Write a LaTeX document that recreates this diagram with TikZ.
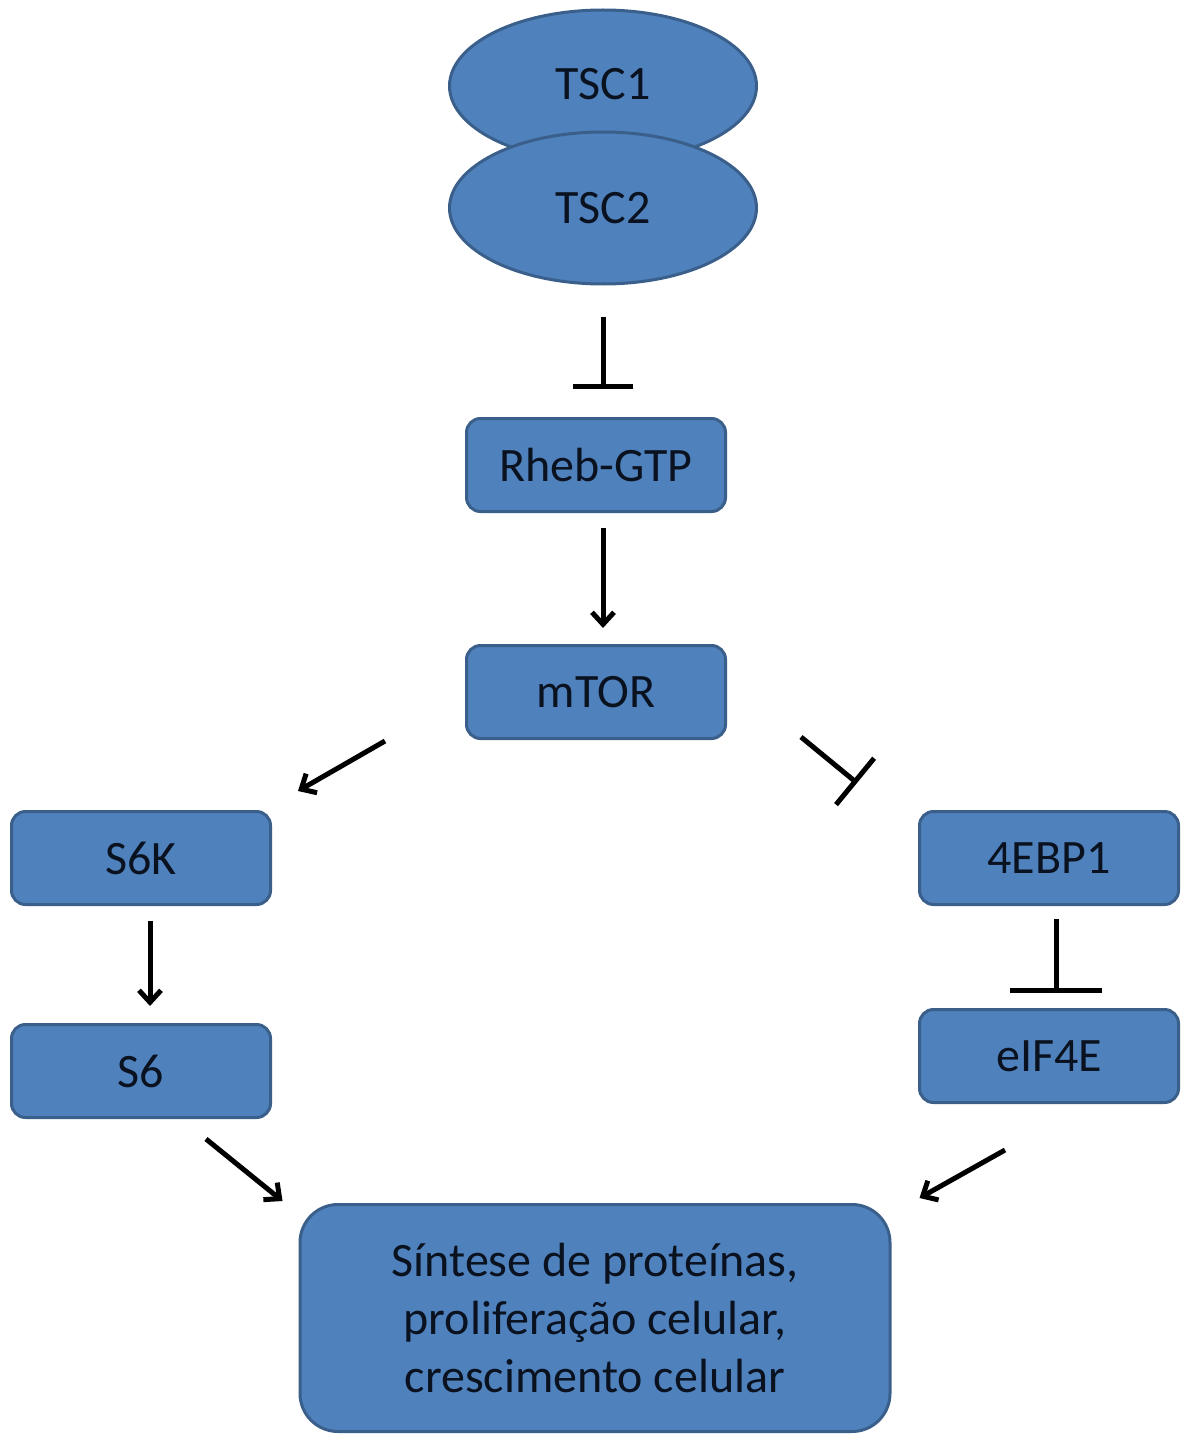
\documentclass[tikz,border=0pt]{standalone}
\usepackage{fontspec}
\setmainfont{Carlito}
\usepackage{tikz}
\usetikzlibrary{calc,arrows.meta,shapes.geometric}
\definecolor{boxfill}{HTML}{4F81BD}
\definecolor{boxline}{HTML}{3A5F8B}
\definecolor{txtc}{HTML}{0A1220}
\newcommand\lblfont{\fontsize{48}{58}\selectfont}
\tikzset{
  act/.style={-{Straight Barb[length=12pt,width=22pt]},line width=5pt},
  inh/.style={-{Bar[width=#1]},line width=5pt},
  inh/.default=60pt,
  prot/.style={ellipse,draw=boxline,fill=boxfill,line width=3pt,minimum width=307pt,minimum height=152pt,inner sep=0pt,font=\lblfont,text=txtc},
  box/.style={rectangle,rounded corners=14pt,draw=boxline,fill=boxfill,line width=3pt,minimum width=259pt,minimum height=93pt,inner sep=0pt,font=\lblfont,text=txtc,align=center}
}
\begin{document}
\begin{tikzpicture}[x=1pt,y=-1pt]
\useasboundingbox (0,0) rectangle (1181,1434);
% proteins
\node[prot] (tsc1) at (603,86) {\raisebox{5pt}{TSC1}};
\node[prot] (tsc2) at (603,208) {\raisebox{-5pt}{TSC2}};
\node[box] (rheb) at (596,465) {Rheb-GTP};
\node[box] (mtor) at (596,692) {mTOR};
\node[box] (s6k) at (141,858) {S6K};
\node[box] (s6) at (141,1071) {S6};
\node[box] (ebp) at (1049,858) {4EBP1};
\node[box] (eif) at (1049,1056) {eIF4E};
\node[box,minimum width=590pt,minimum height=227pt,rounded corners=38pt] (fin) at (595,1318)
  {Síntese de proteínas,\\proliferação celular,\\crescimento celular};
% links
\draw[inh,shorten <=31pt,shorten >=28pt] (tsc2.south) -- (tsc2.south |- rheb.north);
\draw[act,shorten <=15pt,shorten >=16pt] (rheb.south -| tsc2.south) -- (mtor.north -| tsc2.south);
\draw[act] ($(mtor.south west)+(-80,1)$) -- ($(s6k.north east)+(26,-19)$);
\draw[inh] ($(mtor.south east)+(74,-3)$) -- ($(ebp.north west)+(-61,-27)$);
\draw[act,shorten <=15pt,shorten >=17pt] ([xshift=9pt]s6k.south) -- ([xshift=9pt]s6.north);
\draw[inh=92pt,shorten <=13pt,shorten >=15pt] ([xshift=7pt]ebp.south) -- ([xshift=7pt]eif.north);
\draw[act] ($(s6.south east)+(-66,20)$) -- ($(fin.north west)+(-16,-2)$);
\draw[act] ($(eif.south west)+(87,46)$) -- ($(fin.north east)+(28,-5)$);
\end{tikzpicture}
\end{document}
